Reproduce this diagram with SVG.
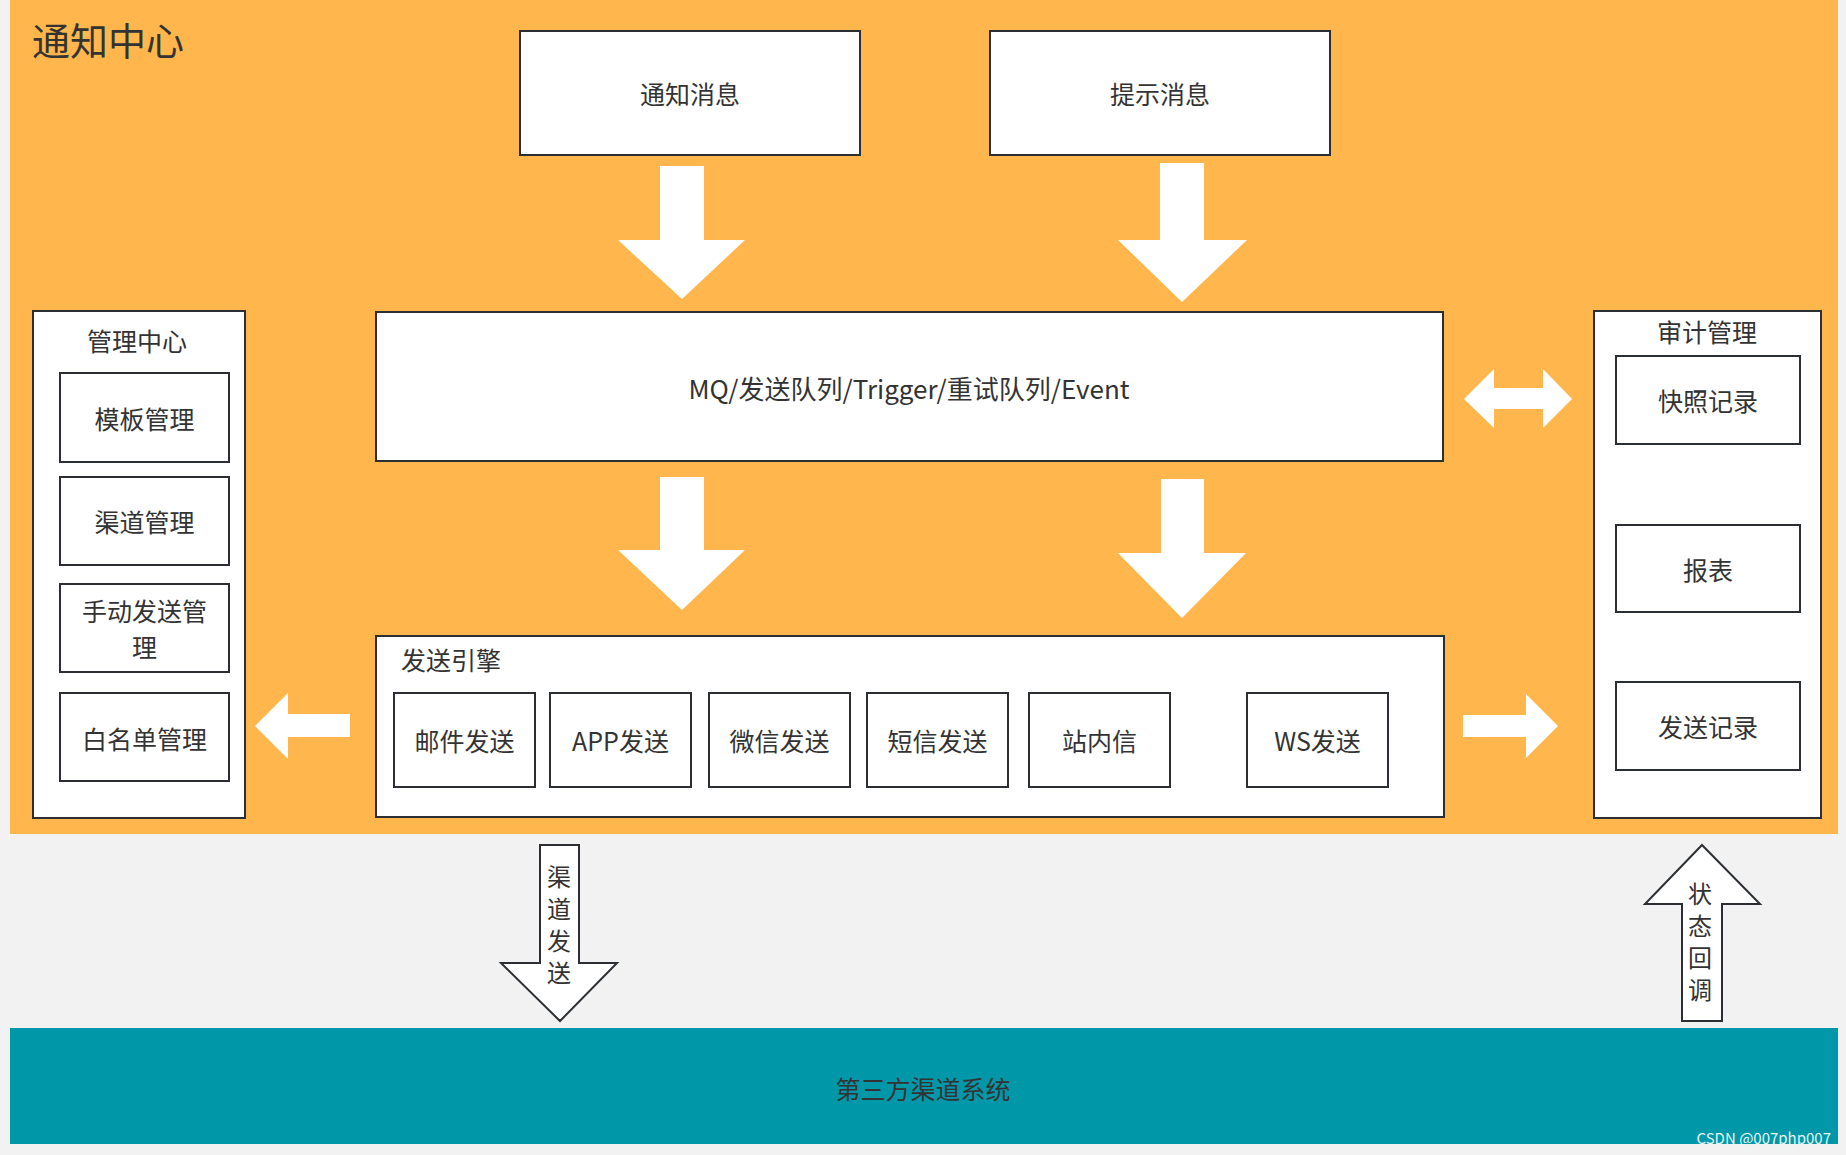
<svg xmlns="http://www.w3.org/2000/svg" width="1846" height="1155" viewBox="0 0 1846 1155">
<style>
text{font-family:"Noto Sans CJK SC","Noto Sans",sans-serif;fill:#333;dominant-baseline:central;text-anchor:middle;}
.box{fill:#fff;stroke:#2b2f33;stroke-width:2;}
.t{font-size:25px;}
.v{font-size:24px;writing-mode:vertical-rl;letter-spacing:8px;text-anchor:start;}
.wa{fill:#fff;stroke:none;}
.oa{fill:#fff;stroke:#2b2f33;stroke-width:2;}
</style>
<rect x="0" y="0" width="1846" height="1155" fill="#f2f2f2"/>
<g id="zone-notify">
<rect x="10" y="0" width="1828" height="834" fill="#ffb74d"/>
<text x="32" y="38" style="font-size:38px;text-anchor:start">通知中心</text>
</g>
<g id="zone-third">
<rect x="10" y="1028" width="1828" height="116" fill="#0098a8"/>
<text x="923" y="1088" class="t">第三方渠道系统</text>
</g>
<g id="n-notify-msg"><rect class="box" x="520" y="31" width="340" height="124"/><text x="690" y="93" class="t">通知消息</text></g>
<g id="n-tip-msg"><rect class="box" x="990" y="31" width="340" height="124"/><text x="1160" y="93" class="t">提示消息</text></g>
<g id="n-mq"><rect class="box" x="376" y="312" width="1067" height="149"/><text x="909" y="387" style="font-size:26px">MQ/发送队列/Trigger/重试队列/Event</text></g>
<g id="n-engine">
<rect class="box" x="376" y="636" width="1068" height="181"/>
<text x="401" y="659" class="t" style="text-anchor:start">发送引擎</text>
<g id="n-mail"><rect class="box" x="394" y="693" width="141" height="94"/><text x="464.5" y="740" class="t">邮件发送</text></g>
<g id="n-app"><rect class="box" x="550" y="693" width="141" height="94"/><text x="620.5" y="740" class="t">APP发送</text></g>
<g id="n-wechat"><rect class="box" x="709" y="693" width="141" height="94"/><text x="779.5" y="740" class="t">微信发送</text></g>
<g id="n-sms"><rect class="box" x="867" y="693" width="141" height="94"/><text x="937.5" y="740" class="t">短信发送</text></g>
<g id="n-inbox"><rect class="box" x="1029" y="693" width="141" height="94"/><text x="1099.5" y="740" class="t">站内信</text></g>
<g id="n-ws"><rect class="box" x="1247" y="693" width="141" height="94"/><text x="1317.5" y="740" class="t">WS发送</text></g>
</g>
<g id="n-admin">
<rect class="box" x="33" y="311" width="212" height="507"/>
<text x="137" y="340" class="t">管理中心</text>
<g id="n-tpl"><rect class="box" x="60" y="373" width="169" height="89"/><text x="144.5" y="418" class="t">模板管理</text></g>
<g id="n-chan"><rect class="box" x="60" y="477" width="169" height="88"/><text x="144.5" y="521" class="t">渠道管理</text></g>
<g id="n-manual"><rect class="box" x="60" y="584" width="169" height="88"/><text class="t"><tspan x="144.5" y="610">手动发送管</tspan><tspan x="144.5" y="646">理</tspan></text></g>
<g id="n-white"><rect class="box" x="60" y="693" width="169" height="88"/><text x="144.5" y="738" class="t">白名单管理</text></g>
</g>
<g id="n-audit">
<rect class="box" x="1594" y="311" width="227" height="507"/>
<text x="1707" y="331" class="t">审计管理</text>
<g id="n-snap"><rect class="box" x="1616" y="356" width="184" height="88"/><text x="1708" y="400" class="t">快照记录</text></g>
<g id="n-report"><rect class="box" x="1616" y="525" width="184" height="87"/><text x="1708" y="569" class="t">报表</text></g>
<g id="n-sendlog"><rect class="box" x="1616" y="682" width="184" height="88"/><text x="1708" y="726" class="t">发送记录</text></g>
</g>
<g id="connectors">
<polygon class="wa" points="660,166 704,166 704,240 745,240 682,299 618,240 660,240"/>
<polygon class="wa" points="1160,163 1204,163 1204,240 1247,240 1182,302 1118,240 1160,240"/>
<polygon class="wa" points="660,477 704,477 704,550 745,550 682,610 618,550 660,550"/>
<polygon class="wa" points="1161,479 1204,479 1204,553 1246,553 1182,618 1118,553 1161,553"/>
<polygon class="wa" points="350,714 350,737 288,737 288,759 255,726 288,693 288,714"/>
<polygon class="wa" points="1463,715 1526,715 1526,694 1558,726 1526,758 1526,737 1463,737"/>
<polygon class="wa" points="1464,399 1494,369 1494,388 1543,388 1543,369 1572,399 1543,428 1543,409 1494,409 1494,428"/>
<g id="c-send">
<polygon class="oa" points="540,845 579,845 579,963 617,963 560,1021 501,963 540,963"/>
<text class="v" x="559" y="865">渠道发送</text>
</g>
<g id="c-callback">
<polygon class="oa" points="1702,845 1760,904 1722,904 1722,1021 1682,1021 1682,904 1645,904"/>
<text class="v" x="1700" y="882">状态回调</text>
</g>
</g>
<text x="1831" y="1137" style="font-size:15px;text-anchor:end;fill:#e8f4f5">CSDN @007php007</text>
</svg>
